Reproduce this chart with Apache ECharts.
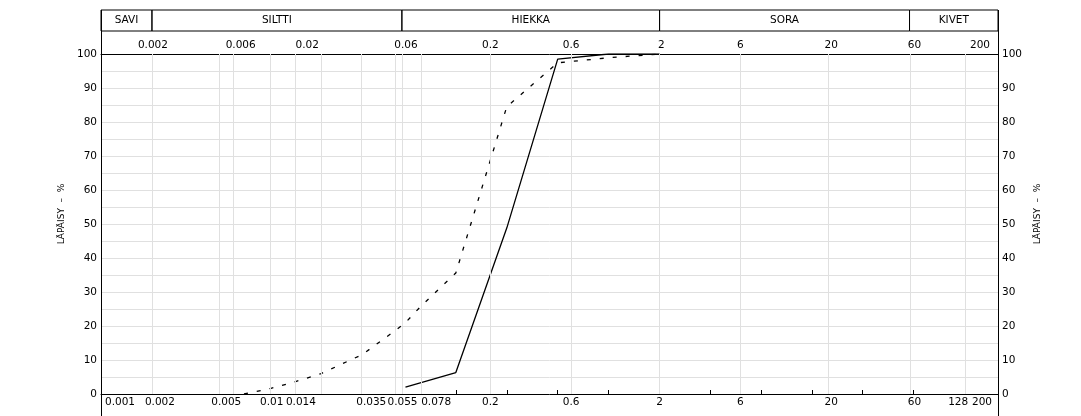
<!DOCTYPE html>
<html><head><meta charset="utf-8">
<script src="https://cdn.jsdelivr.net/npm/echarts@6/dist/echarts.min.js"></script>
<style>html,body{margin:0;padding:0;background:#fff}#chart{width:1081px;height:416px}</style>
</head><body><div id="chart"></div>
<script>
// ---------------- data ----------------
const soilNames = ['SAVI', 'SILTTI', 'HIEKKA', 'SORA', 'KIVET'];
const soilBounds = [0.001, 0.002, 0.06, 2, 60, 200];
const gridSizes = [0.002, 0.005, 0.006, 0.01, 0.014, 0.02, 0.035, 0.055, 0.06, 0.078, 0.2, 0.6, 2, 6, 20, 60, 128];
const bottomLabels = [0.001, 0.002, 0.005, 0.01, 0.014, 0.035, 0.055, 0.078, 0.2, 0.6, 2, 6, 20, 60, 128, 200];
const topLabels = [0.002, 0.006, 0.02, 0.06, 0.2, 0.6, 2, 6, 20, 60, 200];
const sieveSizes = [0.125, 0.25, 0.5, 1, 4, 8, 16, 31.5, 63];
const sizeSolid = [0.063, 0.125, 0.25, 0.5, 1, 2];
const passSolid = [2, 6.3, 48.8, 98.5, 100, 100];
const sizeDashed = [0.007, 0.01, 0.014, 0.02, 0.035, 0.055, 0.063, 0.078, 0.125, 0.25, 0.5, 1, 2];
const passDashed = [0, 1.6, 3.6, 6.0, 11.6, 18.7, 21, 25.9, 35.6, 84.5, 97.4, 98.9, 100];
const yName = 'LÄPÄISY  –  %';
const sizeMin = 0.001, sizeMax = 200;

// ---------------- style ----------------
const FONT = 'DejaVu Sans';
const FS = 10.5;
const GRID_L = 101, GRID_R = 83, GRID_T = 54, GRID_B = 22;
const HEAD_T = 10, HEAD_H = 21;
const GRID_COLOR = '#e0e0e0';
const bottomShift = [19, 8, 7, 1.5, 6, 9, 7, 15, 0, 0, 0, 0, 2.5, 5, -7, -16];
const topShift = [1, 8, -14, 4, 0, 0, 1.7, 0, 2.5, 5, -18];

const lg = v => Math.log10(v);
const XMIN = lg(sizeMin), XMAX = lg(sizeMax);

function richFor(prefix, shifts) {
  const r = {};
  shifts.forEach((s, i) => {
    r[prefix + i] = {
      fontFamily: FONT, fontSize: FS, color: '#000',
      padding: s >= 0 ? [0, 0, 0, 2 * s] : [0, -2 * s, 0, 0]
    };
  });
  return r;
}
function labelFormatter(labels, prefix) {
  return function (value) {
    const i = labels.findIndex(l => Math.abs(lg(l) - value) < 1e-6);
    if (i < 0) return '';
    return '{' + prefix + i + '|' + String(labels[i]) + '}';
  };
}

const chart = echarts.init(document.getElementById('chart'), null, { renderer: 'canvas' });

const yAxisCommon = {
  type: 'value', min: 0, max: 100, interval: 5, gridIndex: 0,
  axisLine: { show: true, onZero: false, lineStyle: { color: '#000', width: 1 } },
  axisTick: { show: false },
  axisLabel: {
    color: '#000', fontFamily: FONT, fontSize: FS, margin: 4,
    formatter: v => (v % 10 === 0 ? String(v) : '')
  },
  name: yName, nameLocation: 'middle', nameRotate: 90,
  nameTextStyle: { color: '#000', fontFamily: FONT, fontSize: 9, padding: [0, 0, 0, 20] }
};

chart.setOption({
  animation: false,
  backgroundColor: '#fff',
  textStyle: { fontFamily: FONT },
  grid: [
    { left: GRID_L, right: GRID_R, top: GRID_T, bottom: GRID_B, containLabel: false },
    { left: GRID_L, right: GRID_R, top: HEAD_T, height: HEAD_H, containLabel: false }
  ],
  xAxis: [
    {
      type: 'value', gridIndex: 0, position: 'bottom', min: XMIN, max: XMAX,
      axisLine: { show: true, onZero: false, lineStyle: { color: '#000', width: 1 } },
      axisTick: { show: true, inside: true, length: 4, customValues: sieveSizes.map(lg), lineStyle: { color: '#000' } },
      splitLine: { show: false },
      axisLabel: {
        customValues: bottomLabels.map(lg), margin: 3, color: '#000', fontFamily: FONT, fontSize: FS,
        showMinLabel: true, showMaxLabel: true, hideOverlap: false,
        formatter: labelFormatter(bottomLabels, 'b'), rich: richFor('b', bottomShift)
      }
    },
    {
      type: 'value', gridIndex: 0, position: 'top', min: XMIN, max: XMAX,
      axisLine: { show: true, onZero: false, lineStyle: { color: '#000', width: 1 } },
      axisTick: { show: false },
      splitLine: { show: false },
      axisLabel: {
        customValues: topLabels.map(lg), margin: 3, color: '#000', fontFamily: FONT, fontSize: FS,
        showMinLabel: true, showMaxLabel: true, hideOverlap: false,
        formatter: labelFormatter(topLabels, 't'), rich: richFor('t', topShift)
      }
    },
    {
      type: 'value', gridIndex: 1, min: XMIN, max: XMAX, show: false
    }
  ],
  yAxis: [
    Object.assign({}, yAxisCommon, {
      position: 'left', nameGap: 31,
      splitLine: { show: true, lineStyle: { color: GRID_COLOR, width: 1 } }
    }),
    Object.assign({}, yAxisCommon, {
      position: 'right', nameGap: 34,
      splitLine: { show: false }
    }),
    { type: 'value', gridIndex: 1, min: 0, max: 1, show: false }
  ],
  graphic: [
    { type: 'line', silent: true, z: 10, shape: { x1: GRID_L + 0.5, y1: HEAD_T, x2: GRID_L + 0.5, y2: 416 }, style: { stroke: '#000', lineWidth: 1 } },
    { type: 'line', silent: true, z: 10, shape: { x1: 1081 - GRID_R + 0.5, y1: HEAD_T, x2: 1081 - GRID_R + 0.5, y2: 416 }, style: { stroke: '#000', lineWidth: 1 } }
  ],
  series: [
    {
      type: 'line', xAxisIndex: 0, yAxisIndex: 0, z: 1, silent: true,
      data: [[XMIN, 0]], symbol: 'none', lineStyle: { opacity: 0 },
      markLine: {
        silent: true, symbol: ['none', 'none'], animation: false,
        label: { show: false },
        lineStyle: { type: 'solid', color: GRID_COLOR, width: 1 },
        emphasis: { disabled: true },
        data: gridSizes.map(s => ({ xAxis: lg(s) }))
      }
    },
    {
      type: 'line', name: 'solid', xAxisIndex: 0, yAxisIndex: 0, z: 3,
      symbol: 'none', showSymbol: false,
      data: sizeSolid.map((s, i) => [lg(s), passSolid[i]]),
      lineStyle: { color: '#000', width: 1.3 }
    },
    {
      type: 'line', name: 'dashed', xAxisIndex: 0, yAxisIndex: 0, z: 3,
      symbol: 'none', showSymbol: false,
      data: sizeDashed.map((s, i) => [lg(s), passDashed[i]]),
      lineStyle: { color: '#000', width: 1.3, type: [4, 9] }
    },
    {
      type: 'line', xAxisIndex: 2, yAxisIndex: 2, silent: true,
      data: [[XMIN, 0]], symbol: 'none', lineStyle: { opacity: 0 },
      markArea: {
        silent: true,
        itemStyle: { color: 'rgba(0,0,0,0)', borderColor: '#000', borderWidth: 1 },
        label: { show: true, position: 'inside', color: '#000', fontFamily: FONT, fontSize: FS },
        emphasis: { disabled: true },
        data: soilNames.map((n, i) => [
          { name: n, xAxis: lg(soilBounds[i]), yAxis: 0 },
          { xAxis: lg(soilBounds[i + 1]), yAxis: 1 }
        ])
      }
    }
  ]
});
</script>
</body></html>
